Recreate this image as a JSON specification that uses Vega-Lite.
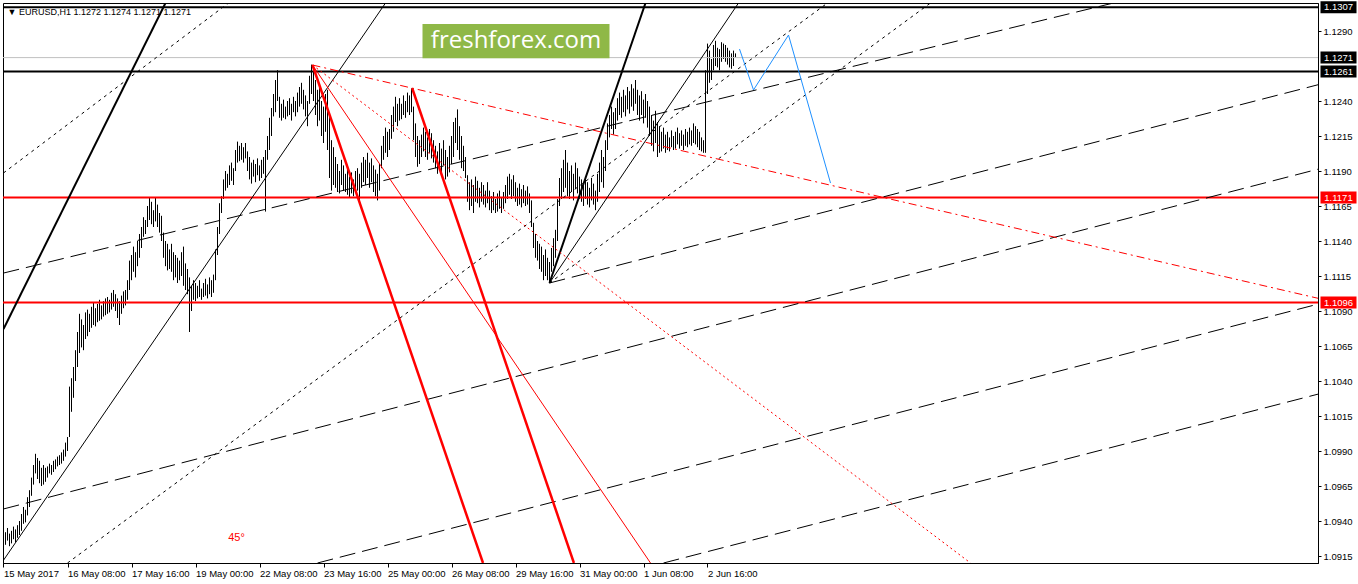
{
"$schema":"https://vega.github.io/schema/vega-lite/v6.json",
"width":1315,"height":560,
"autosize":{"type":"none"},
"padding":{"left":3,"top":3,"right":40,"bottom":21},
"background":"white",
"config":{"view":{"stroke":"black","strokeWidth":1},"font":"Liberation Sans","axis":{"labelOverlap":false,"labelFlush":false,"grid":false}},
"datasets":{
"bars":[
{"i":0,"l":1.0925,"h":1.0934},{"i":1,"l":1.0923,"h":1.0932},{"i":2,"l":1.0926,"h":1.0935},{"i":3,"l":1.0922,"h":1.0931},{"i":4,"l":1.0924,"h":1.0933},{"i":5,"l":1.0927,"h":1.0936},{"i":6,"l":1.0925,"h":1.0934},{"i":7,"l":1.0928,"h":1.0937},{"i":8,"l":1.0930,"h":1.0940},{"i":9,"l":1.0933,"h":1.0945},
{"i":10,"l":1.0938,"h":1.0950},{"i":11,"l":1.0939,"h":1.0948},{"i":12,"l":1.0944,"h":1.0957},{"i":13,"l":1.0950,"h":1.0962},{"i":14,"l":1.0958,"h":1.0971},{"i":15,"l":1.0966,"h":1.0980},{"i":16,"l":1.0974,"h":1.0988},{"i":17,"l":1.0970,"h":1.0985},{"i":18,"l":1.0967,"h":1.0983},{"i":19,"l":1.0965,"h":1.0978},
{"i":20,"l":1.0966,"h":1.0980},{"i":21,"l":1.0968,"h":1.0978},{"i":22,"l":1.0971,"h":1.0979},{"i":23,"l":1.0974,"h":1.0981},{"i":24,"l":1.0973,"h":1.0980},{"i":25,"l":1.0975,"h":1.0983},{"i":26,"l":1.0977,"h":1.0984},{"i":27,"l":1.0979,"h":1.0986},{"i":28,"l":1.0980,"h":1.0987},{"i":29,"l":1.0981,"h":1.0989},
{"i":30,"l":1.0983,"h":1.0991},{"i":31,"l":1.0986,"h":1.0996},{"i":32,"l":1.0990,"h":1.1000},{"i":33,"l":1.1000,"h":1.1036},{"i":34,"l":1.1018,"h":1.1042},{"i":35,"l":1.1028,"h":1.1050},{"i":36,"l":1.1040,"h":1.1062},{"i":37,"l":1.1050,"h":1.1075},{"i":38,"l":1.1060,"h":1.1088},{"i":39,"l":1.1064,"h":1.1084},
{"i":40,"l":1.1062,"h":1.1080},{"i":41,"l":1.1070,"h":1.1089},{"i":42,"l":1.1072,"h":1.1091},{"i":43,"l":1.1075,"h":1.1088},{"i":44,"l":1.1078,"h":1.1093},{"i":45,"l":1.1080,"h":1.1096},{"i":46,"l":1.1079,"h":1.1092},{"i":47,"l":1.1082,"h":1.1095},{"i":48,"l":1.1083,"h":1.1098},{"i":49,"l":1.1084,"h":1.1094},
{"i":50,"l":1.1086,"h":1.1097},{"i":51,"l":1.1087,"h":1.1099},{"i":52,"l":1.1088,"h":1.1100},{"i":53,"l":1.1089,"h":1.1098},{"i":54,"l":1.1091,"h":1.1103},{"i":55,"l":1.1093,"h":1.1105},{"i":56,"l":1.1090,"h":1.1102},{"i":57,"l":1.1085,"h":1.1099},{"i":58,"l":1.1080,"h":1.1097},{"i":59,"l":1.1088,"h":1.1101},
{"i":60,"l":1.1092,"h":1.1104},{"i":61,"l":1.1094,"h":1.1105},{"i":62,"l":1.1098,"h":1.1112},{"i":63,"l":1.1105,"h":1.1126},{"i":64,"l":1.1112,"h":1.1130},{"i":65,"l":1.1118,"h":1.1136},{"i":66,"l":1.1114,"h":1.1132},{"i":67,"l":1.1122,"h":1.1140},{"i":68,"l":1.1128,"h":1.1145},{"i":69,"l":1.1135,"h":1.1150},
{"i":70,"l":1.1143,"h":1.1157},{"i":71,"l":1.1145,"h":1.1155},{"i":72,"l":1.1150,"h":1.1165},{"i":73,"l":1.1155,"h":1.1171},{"i":74,"l":1.1152,"h":1.1168},{"i":75,"l":1.1150,"h":1.1162},{"i":76,"l":1.1154,"h":1.1171},{"i":77,"l":1.1150,"h":1.1166},{"i":78,"l":1.1146,"h":1.1160},{"i":79,"l":1.1140,"h":1.1158},
{"i":80,"l":1.1128,"h":1.1146},{"i":81,"l":1.1122,"h":1.1140},{"i":82,"l":1.1119,"h":1.1138},{"i":83,"l":1.1120,"h":1.1134},{"i":84,"l":1.1118,"h":1.1138},{"i":85,"l":1.1112,"h":1.1132},{"i":86,"l":1.1114,"h":1.1130},{"i":87,"l":1.1110,"h":1.1128},{"i":88,"l":1.1112,"h":1.1126},{"i":89,"l":1.1115,"h":1.1132},
{"i":90,"l":1.1108,"h":1.1136},{"i":91,"l":1.1105,"h":1.1124},{"i":92,"l":1.1102,"h":1.1120},{"i":93,"l":1.1075,"h":1.1114},{"i":94,"l":1.1090,"h":1.1108},{"i":95,"l":1.1098,"h":1.1112},{"i":96,"l":1.1097,"h":1.1110},{"i":97,"l":1.1099,"h":1.1108},{"i":98,"l":1.1100,"h":1.1112},{"i":99,"l":1.1098,"h":1.1106},
{"i":100,"l":1.1100,"h":1.1110},{"i":101,"l":1.1101,"h":1.1113},{"i":102,"l":1.1099,"h":1.1109},{"i":103,"l":1.1102,"h":1.1114},{"i":104,"l":1.1100,"h":1.1112},{"i":105,"l":1.1103,"h":1.1116},{"i":106,"l":1.1112,"h":1.1134},{"i":107,"l":1.1130,"h":1.1150},{"i":108,"l":1.1145,"h":1.1167},{"i":109,"l":1.1160,"h":1.1172},
{"i":110,"l":1.1170,"h":1.1184},{"i":111,"l":1.1176,"h":1.1190},{"i":112,"l":1.1178,"h":1.1188},{"i":113,"l":1.1180,"h":1.1194},{"i":114,"l":1.1183,"h":1.1196},{"i":115,"l":1.1180,"h":1.1192},{"i":116,"l":1.1190,"h":1.1205},{"i":117,"l":1.1196,"h":1.1211},{"i":118,"l":1.1197,"h":1.1208},{"i":119,"l":1.1198,"h":1.1210},
{"i":120,"l":1.1196,"h":1.1207},{"i":121,"l":1.1199,"h":1.1210},{"i":122,"l":1.1190,"h":1.1204},{"i":123,"l":1.1184,"h":1.1200},{"i":124,"l":1.1181,"h":1.1196},{"i":125,"l":1.1186,"h":1.1198},{"i":126,"l":1.1182,"h":1.1195},{"i":127,"l":1.1187,"h":1.1199},{"i":128,"l":1.1183,"h":1.1194},{"i":129,"l":1.1185,"h":1.1198},
{"i":130,"l":1.1188,"h":1.1200},{"i":131,"l":1.1161,"h":1.1205},{"i":132,"l":1.1198,"h":1.1215},{"i":133,"l":1.1205,"h":1.1228},{"i":134,"l":1.1215,"h":1.1235},{"i":135,"l":1.1229,"h":1.1245},{"i":136,"l":1.1232,"h":1.1255},{"i":137,"l":1.1240,"h":1.1262},{"i":138,"l":1.1228,"h":1.1243},{"i":139,"l":1.1226,"h":1.1238},
{"i":140,"l":1.1228,"h":1.1241},{"i":141,"l":1.1227,"h":1.1236},{"i":142,"l":1.1229,"h":1.1240},{"i":143,"l":1.1230,"h":1.1242},{"i":144,"l":1.1226,"h":1.1238},{"i":145,"l":1.1232,"h":1.1243},{"i":146,"l":1.1229,"h":1.1240},{"i":147,"l":1.1232,"h":1.1246},{"i":148,"l":1.1236,"h":1.1250},{"i":149,"l":1.1238,"h":1.1253},
{"i":150,"l":1.1234,"h":1.1248},{"i":151,"l":1.1229,"h":1.1244},{"i":152,"l":1.1222,"h":1.1240},{"i":153,"l":1.1238,"h":1.1258},{"i":154,"l":1.1245,"h":1.1266},{"i":155,"l":1.1240,"h":1.1262},{"i":156,"l":1.1230,"h":1.1255},{"i":157,"l":1.1222,"h":1.1248},{"i":158,"l":1.1226,"h":1.1252},{"i":159,"l":1.1215,"h":1.1240},
{"i":160,"l":1.1210,"h":1.1236},{"i":161,"l":1.1218,"h":1.1245},{"i":162,"l":1.1205,"h":1.1248},{"i":163,"l":1.1185,"h":1.1230},{"i":164,"l":1.1176,"h":1.1212},{"i":165,"l":1.1180,"h":1.1207},{"i":166,"l":1.1178,"h":1.1200},{"i":167,"l":1.1175,"h":1.1195},{"i":168,"l":1.1174,"h":1.1190},{"i":169,"l":1.1180,"h":1.1198},
{"i":170,"l":1.1176,"h":1.1194},{"i":171,"l":1.1175,"h":1.1188},{"i":172,"l":1.1173,"h":1.1191},{"i":173,"l":1.1171,"h":1.1186},{"i":174,"l":1.1174,"h":1.1189},{"i":175,"l":1.1172,"h":1.1184},{"i":176,"l":1.1175,"h":1.1190},{"i":177,"l":1.1176,"h":1.1192},{"i":178,"l":1.1166,"h":1.1188},{"i":179,"l":1.1178,"h":1.1196},
{"i":180,"l":1.1182,"h":1.1200},{"i":181,"l":1.1180,"h":1.1198},{"i":182,"l":1.1185,"h":1.1203},{"i":183,"l":1.1178,"h":1.1196},{"i":184,"l":1.1182,"h":1.1199},{"i":185,"l":1.1175,"h":1.1194},{"i":186,"l":1.1172,"h":1.1191},{"i":187,"l":1.1169,"h":1.1188},{"i":188,"l":1.1176,"h":1.1195},{"i":189,"l":1.1192,"h":1.1208},
{"i":190,"l":1.1198,"h":1.1215},{"i":191,"l":1.1203,"h":1.1221},{"i":192,"l":1.1200,"h":1.1218},{"i":193,"l":1.1205,"h":1.1220},{"i":194,"l":1.1213,"h":1.1230},{"i":195,"l":1.1218,"h":1.1236},{"i":196,"l":1.1225,"h":1.1243},{"i":197,"l":1.1222,"h":1.1238},{"i":198,"l":1.1226,"h":1.1242},{"i":199,"l":1.1227,"h":1.1238},
{"i":200,"l":1.1230,"h":1.1244},{"i":201,"l":1.1228,"h":1.1240},{"i":202,"l":1.1232,"h":1.1246},{"i":203,"l":1.1230,"h":1.1244},{"i":204,"l":1.1232,"h":1.1249},{"i":205,"l":1.1212,"h":1.1236},{"i":206,"l":1.1200,"h":1.1224},{"i":207,"l":1.1193,"h":1.1215},{"i":208,"l":1.1195,"h":1.1212},{"i":209,"l":1.1200,"h":1.1216},
{"i":210,"l":1.1204,"h":1.1221},{"i":211,"l":1.1200,"h":1.1218},{"i":212,"l":1.1198,"h":1.1214},{"i":213,"l":1.1203,"h":1.1220},{"i":214,"l":1.1199,"h":1.1217},{"i":215,"l":1.1196,"h":1.1212},{"i":216,"l":1.1192,"h":1.1208},{"i":217,"l":1.1188,"h":1.1204},{"i":218,"l":1.1190,"h":1.1210},{"i":219,"l":1.1186,"h":1.1206},
{"i":220,"l":1.1194,"h":1.1212},{"i":221,"l":1.1184,"h":1.1205},{"i":222,"l":1.1186,"h":1.1200},{"i":223,"l":1.1189,"h":1.1208},{"i":224,"l":1.1195,"h":1.1215},{"i":225,"l":1.1200,"h":1.1225},{"i":226,"l":1.1210,"h":1.1228},{"i":227,"l":1.1205,"h":1.1234},{"i":228,"l":1.1198,"h":1.1222},{"i":229,"l":1.1192,"h":1.1215},
{"i":230,"l":1.1190,"h":1.1208},{"i":231,"l":1.1185,"h":1.1200},{"i":232,"l":1.1168,"h":1.1187},{"i":233,"l":1.1162,"h":1.1182},{"i":234,"l":1.1165,"h":1.1184},{"i":235,"l":1.1160,"h":1.1180},{"i":236,"l":1.1168,"h":1.1186},{"i":237,"l":1.1167,"h":1.1183},{"i":238,"l":1.1164,"h":1.1178},{"i":239,"l":1.1168,"h":1.1182},
{"i":240,"l":1.1166,"h":1.1180},{"i":241,"l":1.1164,"h":1.1176},{"i":242,"l":1.1167,"h":1.1182},{"i":243,"l":1.1162,"h":1.1176},{"i":244,"l":1.1160,"h":1.1172},{"i":245,"l":1.1162,"h":1.1175},{"i":246,"l":1.1160,"h":1.1170},{"i":247,"l":1.1161,"h":1.1174},{"i":248,"l":1.1163,"h":1.1176},{"i":249,"l":1.1160,"h":1.1171},
{"i":250,"l":1.1163,"h":1.1175},{"i":251,"l":1.1167,"h":1.1180},{"i":252,"l":1.1170,"h":1.1186},{"i":253,"l":1.1173,"h":1.1188},{"i":254,"l":1.1170,"h":1.1184},{"i":255,"l":1.1172,"h":1.1187},{"i":256,"l":1.1168,"h":1.1182},{"i":257,"l":1.1165,"h":1.1178},{"i":258,"l":1.1166,"h":1.1181},{"i":259,"l":1.1164,"h":1.1177},
{"i":260,"l":1.1167,"h":1.1180},{"i":261,"l":1.1165,"h":1.1176},{"i":262,"l":1.1166,"h":1.1179},{"i":263,"l":1.1160,"h":1.1174},{"i":264,"l":1.1150,"h":1.1169},{"i":265,"l":1.1135,"h":1.1153},{"i":266,"l":1.1128,"h":1.1145},{"i":267,"l":1.1126,"h":1.1140},{"i":268,"l":1.1120,"h":1.1138},{"i":269,"l":1.1118,"h":1.1136},
{"i":270,"l":1.1112,"h":1.1130},{"i":271,"l":1.1115,"h":1.1134},{"i":272,"l":1.1112,"h":1.1128},{"i":273,"l":1.1110,"h":1.1125},{"i":274,"l":1.1118,"h":1.1135},{"i":275,"l":1.1122,"h":1.1142},{"i":276,"l":1.1128,"h":1.1148},{"i":277,"l":1.1140,"h":1.1170},{"i":278,"l":1.1165,"h":1.1185},{"i":279,"l":1.1170,"h":1.1192},
{"i":280,"l":1.1175,"h":1.1198},{"i":281,"l":1.1178,"h":1.1205},{"i":282,"l":1.1172,"h":1.1196},{"i":283,"l":1.1170,"h":1.1190},{"i":284,"l":1.1175,"h":1.1194},{"i":285,"l":1.1169,"h":1.1188},{"i":286,"l":1.1177,"h":1.1196},{"i":287,"l":1.1174,"h":1.1192},{"i":288,"l":1.1170,"h":1.1186},{"i":289,"l":1.1168,"h":1.1184},
{"i":290,"l":1.1165,"h":1.1180},{"i":291,"l":1.1170,"h":1.1186},{"i":292,"l":1.1166,"h":1.1182},{"i":293,"l":1.1164,"h":1.1178},{"i":294,"l":1.1169,"h":1.1185},{"i":295,"l":1.1166,"h":1.1181},{"i":296,"l":1.1162,"h":1.1176},{"i":297,"l":1.1168,"h":1.1188},{"i":298,"l":1.1175,"h":1.1196},{"i":299,"l":1.1182,"h":1.1205},
{"i":300,"l":1.1178,"h":1.1200},{"i":301,"l":1.1190,"h":1.1212},{"i":302,"l":1.1205,"h":1.1224},{"i":303,"l":1.1214,"h":1.1230},{"i":304,"l":1.1220,"h":1.1236},{"i":305,"l":1.1216,"h":1.1232},{"i":306,"l":1.1220,"h":1.1235},{"i":307,"l":1.1226,"h":1.1242},{"i":308,"l":1.1230,"h":1.1246},{"i":309,"l":1.1228,"h":1.1243},
{"i":310,"l":1.1232,"h":1.1248},{"i":311,"l":1.1229,"h":1.1244},{"i":312,"l":1.1234,"h":1.1250},{"i":313,"l":1.1231,"h":1.1247},{"i":314,"l":1.1236,"h":1.1252},{"i":315,"l":1.1233,"h":1.1249},{"i":316,"l":1.1238,"h":1.1255},{"i":317,"l":1.1230,"h":1.1248},{"i":318,"l":1.1226,"h":1.1244},{"i":319,"l":1.1230,"h":1.1247},
{"i":320,"l":1.1224,"h":1.1241},{"i":321,"l":1.1228,"h":1.1245},{"i":322,"l":1.1221,"h":1.1240},{"i":323,"l":1.1215,"h":1.1236},{"i":324,"l":1.1208,"h":1.1230},{"i":325,"l":1.1204,"h":1.1226},{"i":326,"l":1.1210,"h":1.1233},{"i":327,"l":1.1200,"h":1.1225},{"i":328,"l":1.1203,"h":1.1222},{"i":329,"l":1.1204,"h":1.1218},
{"i":330,"l":1.1206,"h":1.1221},{"i":331,"l":1.1203,"h":1.1216},{"i":332,"l":1.1205,"h":1.1218},{"i":333,"l":1.1204,"h":1.1214},{"i":334,"l":1.1207,"h":1.1219},{"i":335,"l":1.1205,"h":1.1215},{"i":336,"l":1.1206,"h":1.1218},{"i":337,"l":1.1209,"h":1.1221},{"i":338,"l":1.1206,"h":1.1217},{"i":339,"l":1.1208,"h":1.1219},
{"i":340,"l":1.1205,"h":1.1216},{"i":341,"l":1.1208,"h":1.1220},{"i":342,"l":1.1207,"h":1.1218},{"i":343,"l":1.1209,"h":1.1221},{"i":344,"l":1.1208,"h":1.1219},{"i":345,"l":1.1210,"h":1.1224},{"i":346,"l":1.1209,"h":1.1222},{"i":347,"l":1.1207,"h":1.1220},{"i":348,"l":1.1205,"h":1.1218},{"i":349,"l":1.1204,"h":1.1214},
{"i":350,"l":1.1203,"h":1.1212},{"i":351,"l":1.1203,"h":1.1262},{"i":352,"l":1.1245,"h":1.1281},{"i":353,"l":1.1253,"h":1.1276},{"i":354,"l":1.1255,"h":1.1270},{"i":355,"l":1.1262,"h":1.1280},{"i":356,"l":1.1265,"h":1.1283},{"i":357,"l":1.1264,"h":1.1278},{"i":358,"l":1.1262,"h":1.1277},{"i":359,"l":1.1268,"h":1.1282},
{"i":360,"l":1.1270,"h":1.1281},{"i":361,"l":1.1268,"h":1.1280},{"i":362,"l":1.1266,"h":1.1278},{"i":363,"l":1.1264,"h":1.1276},{"i":364,"l":1.1263,"h":1.1274},{"i":365,"l":1.1265,"h":1.1276},{"i":366,"l":1.1271,"h":1.1274}
],
"lines":[
{"g":"bthick","id":"L1","i":0,"p":1.10771},{"g":"bthick","id":"L1","i":81,"p":1.1310},
{"g":"bthick","id":"L2","i":273,"p":1.1110},{"g":"bthick","id":"L2","i":321,"p":1.1310},
{"g":"bthin","id":"L3","i":0,"p":1.0912},{"g":"bthin","id":"L3","i":191,"p":1.1310},
{"g":"bthin","id":"L4","i":273,"p":1.1110},{"g":"bthin","id":"L4","i":367.5,"p":1.1310},
{"g":"bdot","id":"B1","i":0,"p":1.11886},{"g":"bdot","id":"B1","i":112.5,"p":1.1310},
{"g":"bdot","id":"B2","i":32,"p":1.0910},{"g":"bdot","id":"B2","i":412,"p":1.1310},
{"g":"bdot","id":"B3","i":273,"p":1.1110},{"g":"bdot","id":"B3","i":463.5,"p":1.1310},
{"g":"bdash","id":"D1","i":0,"p":1.11171},{"g":"bdash","id":"D1","i":555,"p":1.1310},
{"g":"bdash","id":"D2","i":273,"p":1.1110},{"g":"bdash","id":"D2","i":657.5,"p":1.12517},
{"g":"bdash","id":"D3","i":0,"p":1.09486},{"g":"bdash","id":"D3","i":657.5,"p":1.11914},
{"g":"bdash","id":"D4","i":157,"p":1.0910},{"g":"bdash","id":"D4","i":657.5,"p":1.10950},
{"g":"bdash","id":"D5","i":330,"p":1.0910},{"g":"bdash","id":"D5","i":657.5,"p":1.10307},
{"g":"rthick","id":"R1","i":154.5,"p":1.12657},{"g":"rthick","id":"R1","i":239.75,"p":1.0910},
{"g":"rthick","id":"R2","i":204.35,"p":1.12491},{"g":"rthick","id":"R2","i":285.2,"p":1.0910},
{"g":"rthin","id":"R3","i":154.5,"p":1.12657},{"g":"rthin","id":"R3","i":323.5,"p":1.0910},
{"g":"rdashdot","id":"R4","i":154.5,"p":1.12657},{"g":"rdashdot","id":"R4","i":657.5,"p":1.10990},
{"g":"rdot","id":"R5","i":154.5,"p":1.12657},{"g":"rdot","id":"R5","i":483.5,"p":1.0910},
{"g":"blue","id":"P1","i":368,"p":1.12771},{"g":"blue","id":"P1","i":375,"p":1.12479},{"g":"blue","id":"P1","i":392.5,"p":1.12871},{"g":"blue","id":"P1","i":413.5,"p":1.11814}
],
"levels":[
{"p":1.1307,"kind":"resistance"},{"p":1.1271,"kind":"last"},{"p":1.1261,"kind":"resistance"},{"p":1.1171,"kind":"support"},{"p":1.1096,"kind":"support"}
],
"brand":[{"i":209.5,"i2":303,"p":1.12950,"p2":1.12705}],
"brandtext":[{"i":256.25,"p":1.12828,"txt":"freshforex.com"}],
"notes":[
{"i":2,"p":1.13039,"txt":"▼ EURUSD,H1  1.1272 1.1274 1.1271 1.1271","kind":"header"},
{"i":112.35,"p":1.09278,"txt":"45°","kind":"angle"}
]
},
"layer":[
{"data":{"name":"bars"},"mark":{"type":"rule","color":"black","strokeWidth":1},
 "encoding":{
  "x":{"field":"i","type":"quantitative","scale":{"domain":[-0.25,657.25],"nice":false,"zero":false},"axis":{"values":[0,32,64,96,128,160,192,224,256,288,320,352],"labelExpr":"['15 May 2017','16 May 08:00','17 May 16:00','19 May 00:00','22 May 08:00','23 May 16:00','25 May 00:00','26 May 08:00','29 May 16:00','31 May 00:00','1 Jun 08:00','2 Jun 16:00'][round(datum.value/32)]","title":null,"grid":false,"labelAlign":"left","labelBaseline":"top","tickSize":4,"labelPadding":1,"labelFlush":false,"labelOverlap":false,"domainColor":"black","tickColor":"black","labelColor":"black","labelFont":"Liberation Sans","labelFontSize":9.5}},
  "y":{"field":"l","type":"quantitative","scale":{"domain":[1.091,1.131],"nice":false,"zero":false},"axis":{"orient":"right","values":[1.0915,1.094,1.0965,1.099,1.1015,1.104,1.1065,1.109,1.1115,1.114,1.1165,1.119,1.1215,1.124,1.129],"format":".4f","title":null,"grid":false,"tickSize":3,"labelPadding":2,"labelAlign":"left","labelBaseline":"middle","domainColor":"black","tickColor":"black","labelColor":"black","labelFont":"Liberation Sans","labelFontSize":9.5,"labelFlush":false,"labelOverlap":false}},
  "y2":{"field":"h"}
 }},
{"data":{"name":"levels"},"transform":[{"filter":"datum.kind=='last'"}],"mark":{"type":"rule","color":"#c0c0c0","strokeWidth":1},
 "encoding":{"y":{"field":"p","type":"quantitative","scale":{"domain":[1.091,1.131],"nice":false,"zero":false},"axis":{"orient":"right","values":[1.0915,1.094,1.0965,1.099,1.1015,1.104,1.1065,1.109,1.1115,1.114,1.1165,1.119,1.1215,1.124,1.129],"format":".4f","title":null,"grid":false,"tickSize":3,"labelPadding":2,"labelAlign":"left","labelBaseline":"middle","domainColor":"black","tickColor":"black","labelColor":"black","labelFont":"Liberation Sans","labelFontSize":9.5,"labelFlush":false,"labelOverlap":false}}}},
{"data":{"name":"levels"},"transform":[{"filter":"datum.kind!='last'"}],"mark":{"type":"rule","strokeWidth":2},
 "encoding":{"y":{"field":"p","type":"quantitative","scale":{"domain":[1.091,1.131],"nice":false,"zero":false},"axis":{"orient":"right","values":[1.0915,1.094,1.0965,1.099,1.1015,1.104,1.1065,1.109,1.1115,1.114,1.1165,1.119,1.1215,1.124,1.129],"format":".4f","title":null,"grid":false,"tickSize":3,"labelPadding":2,"labelAlign":"left","labelBaseline":"middle","domainColor":"black","tickColor":"black","labelColor":"black","labelFont":"Liberation Sans","labelFontSize":9.5,"labelFlush":false,"labelOverlap":false}},
  "color":{"condition":{"test":"datum.kind=='support'","value":"#ff0000"},"value":"black"}}},
{"data":{"name":"lines"},"transform":[{"filter":"datum.g=='bthick'"}],"mark":{"type":"line","color":"black","strokeWidth":2,"clip":true},
 "encoding":{"x":{"field":"i","type":"quantitative","scale":{"domain":[-0.25,657.25],"nice":false,"zero":false},"axis":{"values":[0,32,64,96,128,160,192,224,256,288,320,352],"labelExpr":"['15 May 2017','16 May 08:00','17 May 16:00','19 May 00:00','22 May 08:00','23 May 16:00','25 May 00:00','26 May 08:00','29 May 16:00','31 May 00:00','1 Jun 08:00','2 Jun 16:00'][round(datum.value/32)]","title":null,"grid":false,"labelAlign":"left","labelBaseline":"top","tickSize":4,"labelPadding":1,"labelFlush":false,"labelOverlap":false,"domainColor":"black","tickColor":"black","labelColor":"black","labelFont":"Liberation Sans","labelFontSize":9.5}},"y":{"field":"p","type":"quantitative","scale":{"domain":[1.091,1.131],"nice":false,"zero":false},"axis":{"orient":"right","values":[1.0915,1.094,1.0965,1.099,1.1015,1.104,1.1065,1.109,1.1115,1.114,1.1165,1.119,1.1215,1.124,1.129],"format":".4f","title":null,"grid":false,"tickSize":3,"labelPadding":2,"labelAlign":"left","labelBaseline":"middle","domainColor":"black","tickColor":"black","labelColor":"black","labelFont":"Liberation Sans","labelFontSize":9.5,"labelFlush":false,"labelOverlap":false}},"detail":{"field":"id"}}},
{"data":{"name":"lines"},"transform":[{"filter":"datum.g=='bthin'"}],"mark":{"type":"line","color":"black","strokeWidth":1,"clip":true},
 "encoding":{"x":{"field":"i","type":"quantitative","scale":{"domain":[-0.25,657.25],"nice":false,"zero":false},"axis":{"values":[0,32,64,96,128,160,192,224,256,288,320,352],"labelExpr":"['15 May 2017','16 May 08:00','17 May 16:00','19 May 00:00','22 May 08:00','23 May 16:00','25 May 00:00','26 May 08:00','29 May 16:00','31 May 00:00','1 Jun 08:00','2 Jun 16:00'][round(datum.value/32)]","title":null,"grid":false,"labelAlign":"left","labelBaseline":"top","tickSize":4,"labelPadding":1,"labelFlush":false,"labelOverlap":false,"domainColor":"black","tickColor":"black","labelColor":"black","labelFont":"Liberation Sans","labelFontSize":9.5}},"y":{"field":"p","type":"quantitative","scale":{"domain":[1.091,1.131],"nice":false,"zero":false},"axis":{"orient":"right","values":[1.0915,1.094,1.0965,1.099,1.1015,1.104,1.1065,1.109,1.1115,1.114,1.1165,1.119,1.1215,1.124,1.129],"format":".4f","title":null,"grid":false,"tickSize":3,"labelPadding":2,"labelAlign":"left","labelBaseline":"middle","domainColor":"black","tickColor":"black","labelColor":"black","labelFont":"Liberation Sans","labelFontSize":9.5,"labelFlush":false,"labelOverlap":false}},"detail":{"field":"id"}}},
{"data":{"name":"lines"},"transform":[{"filter":"datum.g=='bdot'"}],"mark":{"type":"line","color":"black","strokeWidth":1,"strokeDash":[3,4],"clip":true},
 "encoding":{"x":{"field":"i","type":"quantitative","scale":{"domain":[-0.25,657.25],"nice":false,"zero":false},"axis":{"values":[0,32,64,96,128,160,192,224,256,288,320,352],"labelExpr":"['15 May 2017','16 May 08:00','17 May 16:00','19 May 00:00','22 May 08:00','23 May 16:00','25 May 00:00','26 May 08:00','29 May 16:00','31 May 00:00','1 Jun 08:00','2 Jun 16:00'][round(datum.value/32)]","title":null,"grid":false,"labelAlign":"left","labelBaseline":"top","tickSize":4,"labelPadding":1,"labelFlush":false,"labelOverlap":false,"domainColor":"black","tickColor":"black","labelColor":"black","labelFont":"Liberation Sans","labelFontSize":9.5}},"y":{"field":"p","type":"quantitative","scale":{"domain":[1.091,1.131],"nice":false,"zero":false},"axis":{"orient":"right","values":[1.0915,1.094,1.0965,1.099,1.1015,1.104,1.1065,1.109,1.1115,1.114,1.1165,1.119,1.1215,1.124,1.129],"format":".4f","title":null,"grid":false,"tickSize":3,"labelPadding":2,"labelAlign":"left","labelBaseline":"middle","domainColor":"black","tickColor":"black","labelColor":"black","labelFont":"Liberation Sans","labelFontSize":9.5,"labelFlush":false,"labelOverlap":false}},"detail":{"field":"id"}}},
{"data":{"name":"lines"},"transform":[{"filter":"datum.g=='bdash'"}],"mark":{"type":"line","color":"black","strokeWidth":1,"strokeDash":[16,7],"clip":true},
 "encoding":{"x":{"field":"i","type":"quantitative","scale":{"domain":[-0.25,657.25],"nice":false,"zero":false},"axis":{"values":[0,32,64,96,128,160,192,224,256,288,320,352],"labelExpr":"['15 May 2017','16 May 08:00','17 May 16:00','19 May 00:00','22 May 08:00','23 May 16:00','25 May 00:00','26 May 08:00','29 May 16:00','31 May 00:00','1 Jun 08:00','2 Jun 16:00'][round(datum.value/32)]","title":null,"grid":false,"labelAlign":"left","labelBaseline":"top","tickSize":4,"labelPadding":1,"labelFlush":false,"labelOverlap":false,"domainColor":"black","tickColor":"black","labelColor":"black","labelFont":"Liberation Sans","labelFontSize":9.5}},"y":{"field":"p","type":"quantitative","scale":{"domain":[1.091,1.131],"nice":false,"zero":false},"axis":{"orient":"right","values":[1.0915,1.094,1.0965,1.099,1.1015,1.104,1.1065,1.109,1.1115,1.114,1.1165,1.119,1.1215,1.124,1.129],"format":".4f","title":null,"grid":false,"tickSize":3,"labelPadding":2,"labelAlign":"left","labelBaseline":"middle","domainColor":"black","tickColor":"black","labelColor":"black","labelFont":"Liberation Sans","labelFontSize":9.5,"labelFlush":false,"labelOverlap":false}},"detail":{"field":"id"}}},
{"data":{"name":"lines"},"transform":[{"filter":"datum.g=='rthick'"}],"mark":{"type":"line","color":"#ff0000","strokeWidth":2.5,"clip":true},
 "encoding":{"x":{"field":"i","type":"quantitative","scale":{"domain":[-0.25,657.25],"nice":false,"zero":false},"axis":{"values":[0,32,64,96,128,160,192,224,256,288,320,352],"labelExpr":"['15 May 2017','16 May 08:00','17 May 16:00','19 May 00:00','22 May 08:00','23 May 16:00','25 May 00:00','26 May 08:00','29 May 16:00','31 May 00:00','1 Jun 08:00','2 Jun 16:00'][round(datum.value/32)]","title":null,"grid":false,"labelAlign":"left","labelBaseline":"top","tickSize":4,"labelPadding":1,"labelFlush":false,"labelOverlap":false,"domainColor":"black","tickColor":"black","labelColor":"black","labelFont":"Liberation Sans","labelFontSize":9.5}},"y":{"field":"p","type":"quantitative","scale":{"domain":[1.091,1.131],"nice":false,"zero":false},"axis":{"orient":"right","values":[1.0915,1.094,1.0965,1.099,1.1015,1.104,1.1065,1.109,1.1115,1.114,1.1165,1.119,1.1215,1.124,1.129],"format":".4f","title":null,"grid":false,"tickSize":3,"labelPadding":2,"labelAlign":"left","labelBaseline":"middle","domainColor":"black","tickColor":"black","labelColor":"black","labelFont":"Liberation Sans","labelFontSize":9.5,"labelFlush":false,"labelOverlap":false}},"detail":{"field":"id"}}},
{"data":{"name":"lines"},"transform":[{"filter":"datum.g=='rthin'"}],"mark":{"type":"line","color":"#ff0000","strokeWidth":1,"clip":true},
 "encoding":{"x":{"field":"i","type":"quantitative","scale":{"domain":[-0.25,657.25],"nice":false,"zero":false},"axis":{"values":[0,32,64,96,128,160,192,224,256,288,320,352],"labelExpr":"['15 May 2017','16 May 08:00','17 May 16:00','19 May 00:00','22 May 08:00','23 May 16:00','25 May 00:00','26 May 08:00','29 May 16:00','31 May 00:00','1 Jun 08:00','2 Jun 16:00'][round(datum.value/32)]","title":null,"grid":false,"labelAlign":"left","labelBaseline":"top","tickSize":4,"labelPadding":1,"labelFlush":false,"labelOverlap":false,"domainColor":"black","tickColor":"black","labelColor":"black","labelFont":"Liberation Sans","labelFontSize":9.5}},"y":{"field":"p","type":"quantitative","scale":{"domain":[1.091,1.131],"nice":false,"zero":false},"axis":{"orient":"right","values":[1.0915,1.094,1.0965,1.099,1.1015,1.104,1.1065,1.109,1.1115,1.114,1.1165,1.119,1.1215,1.124,1.129],"format":".4f","title":null,"grid":false,"tickSize":3,"labelPadding":2,"labelAlign":"left","labelBaseline":"middle","domainColor":"black","tickColor":"black","labelColor":"black","labelFont":"Liberation Sans","labelFontSize":9.5,"labelFlush":false,"labelOverlap":false}},"detail":{"field":"id"}}},
{"data":{"name":"lines"},"transform":[{"filter":"datum.g=='rdashdot'"}],"mark":{"type":"line","color":"#ff0000","strokeWidth":1,"strokeDash":[8,4,2,4],"clip":true},
 "encoding":{"x":{"field":"i","type":"quantitative","scale":{"domain":[-0.25,657.25],"nice":false,"zero":false},"axis":{"values":[0,32,64,96,128,160,192,224,256,288,320,352],"labelExpr":"['15 May 2017','16 May 08:00','17 May 16:00','19 May 00:00','22 May 08:00','23 May 16:00','25 May 00:00','26 May 08:00','29 May 16:00','31 May 00:00','1 Jun 08:00','2 Jun 16:00'][round(datum.value/32)]","title":null,"grid":false,"labelAlign":"left","labelBaseline":"top","tickSize":4,"labelPadding":1,"labelFlush":false,"labelOverlap":false,"domainColor":"black","tickColor":"black","labelColor":"black","labelFont":"Liberation Sans","labelFontSize":9.5}},"y":{"field":"p","type":"quantitative","scale":{"domain":[1.091,1.131],"nice":false,"zero":false},"axis":{"orient":"right","values":[1.0915,1.094,1.0965,1.099,1.1015,1.104,1.1065,1.109,1.1115,1.114,1.1165,1.119,1.1215,1.124,1.129],"format":".4f","title":null,"grid":false,"tickSize":3,"labelPadding":2,"labelAlign":"left","labelBaseline":"middle","domainColor":"black","tickColor":"black","labelColor":"black","labelFont":"Liberation Sans","labelFontSize":9.5,"labelFlush":false,"labelOverlap":false}},"detail":{"field":"id"}}},
{"data":{"name":"lines"},"transform":[{"filter":"datum.g=='rdot'"}],"mark":{"type":"line","color":"#ff0000","strokeWidth":1,"strokeDash":[2,3],"clip":true},
 "encoding":{"x":{"field":"i","type":"quantitative","scale":{"domain":[-0.25,657.25],"nice":false,"zero":false},"axis":{"values":[0,32,64,96,128,160,192,224,256,288,320,352],"labelExpr":"['15 May 2017','16 May 08:00','17 May 16:00','19 May 00:00','22 May 08:00','23 May 16:00','25 May 00:00','26 May 08:00','29 May 16:00','31 May 00:00','1 Jun 08:00','2 Jun 16:00'][round(datum.value/32)]","title":null,"grid":false,"labelAlign":"left","labelBaseline":"top","tickSize":4,"labelPadding":1,"labelFlush":false,"labelOverlap":false,"domainColor":"black","tickColor":"black","labelColor":"black","labelFont":"Liberation Sans","labelFontSize":9.5}},"y":{"field":"p","type":"quantitative","scale":{"domain":[1.091,1.131],"nice":false,"zero":false},"axis":{"orient":"right","values":[1.0915,1.094,1.0965,1.099,1.1015,1.104,1.1065,1.109,1.1115,1.114,1.1165,1.119,1.1215,1.124,1.129],"format":".4f","title":null,"grid":false,"tickSize":3,"labelPadding":2,"labelAlign":"left","labelBaseline":"middle","domainColor":"black","tickColor":"black","labelColor":"black","labelFont":"Liberation Sans","labelFontSize":9.5,"labelFlush":false,"labelOverlap":false}},"detail":{"field":"id"}}},
{"data":{"name":"lines"},"transform":[{"filter":"datum.g=='blue'"}],"mark":{"type":"line","color":"#1e90ff","strokeWidth":1,"clip":true},
 "encoding":{"x":{"field":"i","type":"quantitative","scale":{"domain":[-0.25,657.25],"nice":false,"zero":false},"axis":{"values":[0,32,64,96,128,160,192,224,256,288,320,352],"labelExpr":"['15 May 2017','16 May 08:00','17 May 16:00','19 May 00:00','22 May 08:00','23 May 16:00','25 May 00:00','26 May 08:00','29 May 16:00','31 May 00:00','1 Jun 08:00','2 Jun 16:00'][round(datum.value/32)]","title":null,"grid":false,"labelAlign":"left","labelBaseline":"top","tickSize":4,"labelPadding":1,"labelFlush":false,"labelOverlap":false,"domainColor":"black","tickColor":"black","labelColor":"black","labelFont":"Liberation Sans","labelFontSize":9.5}},"y":{"field":"p","type":"quantitative","scale":{"domain":[1.091,1.131],"nice":false,"zero":false},"axis":{"orient":"right","values":[1.0915,1.094,1.0965,1.099,1.1015,1.104,1.1065,1.109,1.1115,1.114,1.1165,1.119,1.1215,1.124,1.129],"format":".4f","title":null,"grid":false,"tickSize":3,"labelPadding":2,"labelAlign":"left","labelBaseline":"middle","domainColor":"black","tickColor":"black","labelColor":"black","labelFont":"Liberation Sans","labelFontSize":9.5,"labelFlush":false,"labelOverlap":false}},"detail":{"field":"id"}}},
{"data":{"name":"brand"},"mark":{"type":"rect","color":"#8fb847"},
 "encoding":{"x":{"field":"i","type":"quantitative","scale":{"domain":[-0.25,657.25],"nice":false,"zero":false},"axis":{"values":[0,32,64,96,128,160,192,224,256,288,320,352],"labelExpr":"['15 May 2017','16 May 08:00','17 May 16:00','19 May 00:00','22 May 08:00','23 May 16:00','25 May 00:00','26 May 08:00','29 May 16:00','31 May 00:00','1 Jun 08:00','2 Jun 16:00'][round(datum.value/32)]","title":null,"grid":false,"labelAlign":"left","labelBaseline":"top","tickSize":4,"labelPadding":1,"labelFlush":false,"labelOverlap":false,"domainColor":"black","tickColor":"black","labelColor":"black","labelFont":"Liberation Sans","labelFontSize":9.5}},"x2":{"field":"i2"},"y":{"field":"p","type":"quantitative","scale":{"domain":[1.091,1.131],"nice":false,"zero":false},"axis":{"orient":"right","values":[1.0915,1.094,1.0965,1.099,1.1015,1.104,1.1065,1.109,1.1115,1.114,1.1165,1.119,1.1215,1.124,1.129],"format":".4f","title":null,"grid":false,"tickSize":3,"labelPadding":2,"labelAlign":"left","labelBaseline":"middle","domainColor":"black","tickColor":"black","labelColor":"black","labelFont":"Liberation Sans","labelFontSize":9.5,"labelFlush":false,"labelOverlap":false}},"y2":{"field":"p2"}}},
{"data":{"name":"brandtext"},"mark":{"type":"text","color":"white","font":"Open Sans","fontSize":24,"align":"center","baseline":"middle"},
 "encoding":{"x":{"field":"i","type":"quantitative","scale":{"domain":[-0.25,657.25],"nice":false,"zero":false},"axis":{"values":[0,32,64,96,128,160,192,224,256,288,320,352],"labelExpr":"['15 May 2017','16 May 08:00','17 May 16:00','19 May 00:00','22 May 08:00','23 May 16:00','25 May 00:00','26 May 08:00','29 May 16:00','31 May 00:00','1 Jun 08:00','2 Jun 16:00'][round(datum.value/32)]","title":null,"grid":false,"labelAlign":"left","labelBaseline":"top","tickSize":4,"labelPadding":1,"labelFlush":false,"labelOverlap":false,"domainColor":"black","tickColor":"black","labelColor":"black","labelFont":"Liberation Sans","labelFontSize":9.5}},"y":{"field":"p","type":"quantitative","scale":{"domain":[1.091,1.131],"nice":false,"zero":false},"axis":{"orient":"right","values":[1.0915,1.094,1.0965,1.099,1.1015,1.104,1.1065,1.109,1.1115,1.114,1.1165,1.119,1.1215,1.124,1.129],"format":".4f","title":null,"grid":false,"tickSize":3,"labelPadding":2,"labelAlign":"left","labelBaseline":"middle","domainColor":"black","tickColor":"black","labelColor":"black","labelFont":"Liberation Sans","labelFontSize":9.5,"labelFlush":false,"labelOverlap":false}},"text":{"field":"txt"}}},
{"data":{"name":"notes"},"mark":{"type":"text","align":"left","baseline":"middle","font":"Liberation Sans"},
 "encoding":{"x":{"field":"i","type":"quantitative","scale":{"domain":[-0.25,657.25],"nice":false,"zero":false},"axis":{"values":[0,32,64,96,128,160,192,224,256,288,320,352],"labelExpr":"['15 May 2017','16 May 08:00','17 May 16:00','19 May 00:00','22 May 08:00','23 May 16:00','25 May 00:00','26 May 08:00','29 May 16:00','31 May 00:00','1 Jun 08:00','2 Jun 16:00'][round(datum.value/32)]","title":null,"grid":false,"labelAlign":"left","labelBaseline":"top","tickSize":4,"labelPadding":1,"labelFlush":false,"labelOverlap":false,"domainColor":"black","tickColor":"black","labelColor":"black","labelFont":"Liberation Sans","labelFontSize":9.5}},"y":{"field":"p","type":"quantitative","scale":{"domain":[1.091,1.131],"nice":false,"zero":false},"axis":{"orient":"right","values":[1.0915,1.094,1.0965,1.099,1.1015,1.104,1.1065,1.109,1.1115,1.114,1.1165,1.119,1.1215,1.124,1.129],"format":".4f","title":null,"grid":false,"tickSize":3,"labelPadding":2,"labelAlign":"left","labelBaseline":"middle","domainColor":"black","tickColor":"black","labelColor":"black","labelFont":"Liberation Sans","labelFontSize":9.5,"labelFlush":false,"labelOverlap":false}},"text":{"field":"txt"},
  "color":{"condition":{"test":"datum.kind=='angle'","value":"#ff0000"},"value":"black"},
  "size":{"condition":{"test":"datum.kind=='angle'","value":11},"value":9}}},
{"data":{"name":"levels"},"mark":{"type":"tick","orient":"horizontal","size":36,"thickness":12,"opacity":1,"clip":false},
 "encoding":{"x":{"datum":667.5,"type":"quantitative","scale":{"domain":[-0.25,657.25],"nice":false,"zero":false},"axis":{"values":[0,32,64,96,128,160,192,224,256,288,320,352],"labelExpr":"['15 May 2017','16 May 08:00','17 May 16:00','19 May 00:00','22 May 08:00','23 May 16:00','25 May 00:00','26 May 08:00','29 May 16:00','31 May 00:00','1 Jun 08:00','2 Jun 16:00'][round(datum.value/32)]","title":null,"grid":false,"labelAlign":"left","labelBaseline":"top","tickSize":4,"labelPadding":1,"labelFlush":false,"labelOverlap":false,"domainColor":"black","tickColor":"black","labelColor":"black","labelFont":"Liberation Sans","labelFontSize":9.5}},"y":{"field":"p","type":"quantitative","scale":{"domain":[1.091,1.131],"nice":false,"zero":false},"axis":{"orient":"right","values":[1.0915,1.094,1.0965,1.099,1.1015,1.104,1.1065,1.109,1.1115,1.114,1.1165,1.119,1.1215,1.124,1.129],"format":".4f","title":null,"grid":false,"tickSize":3,"labelPadding":2,"labelAlign":"left","labelBaseline":"middle","domainColor":"black","tickColor":"black","labelColor":"black","labelFont":"Liberation Sans","labelFontSize":9.5,"labelFlush":false,"labelOverlap":false}},
  "color":{"condition":{"test":"datum.kind=='support'","value":"#ff0000"},"value":"black"}}},
{"data":{"name":"levels"},"mark":{"type":"text","color":"white","align":"center","baseline":"middle","font":"Liberation Sans","fontSize":9.5,"clip":false},
 "encoding":{"x":{"datum":667.5,"type":"quantitative","scale":{"domain":[-0.25,657.25],"nice":false,"zero":false},"axis":{"values":[0,32,64,96,128,160,192,224,256,288,320,352],"labelExpr":"['15 May 2017','16 May 08:00','17 May 16:00','19 May 00:00','22 May 08:00','23 May 16:00','25 May 00:00','26 May 08:00','29 May 16:00','31 May 00:00','1 Jun 08:00','2 Jun 16:00'][round(datum.value/32)]","title":null,"grid":false,"labelAlign":"left","labelBaseline":"top","tickSize":4,"labelPadding":1,"labelFlush":false,"labelOverlap":false,"domainColor":"black","tickColor":"black","labelColor":"black","labelFont":"Liberation Sans","labelFontSize":9.5}},"y":{"field":"p","type":"quantitative","scale":{"domain":[1.091,1.131],"nice":false,"zero":false},"axis":{"orient":"right","values":[1.0915,1.094,1.0965,1.099,1.1015,1.104,1.1065,1.109,1.1115,1.114,1.1165,1.119,1.1215,1.124,1.129],"format":".4f","title":null,"grid":false,"tickSize":3,"labelPadding":2,"labelAlign":"left","labelBaseline":"middle","domainColor":"black","tickColor":"black","labelColor":"black","labelFont":"Liberation Sans","labelFontSize":9.5,"labelFlush":false,"labelOverlap":false}},"text":{"field":"p","type":"quantitative","format":".4f"}}}
]
}
